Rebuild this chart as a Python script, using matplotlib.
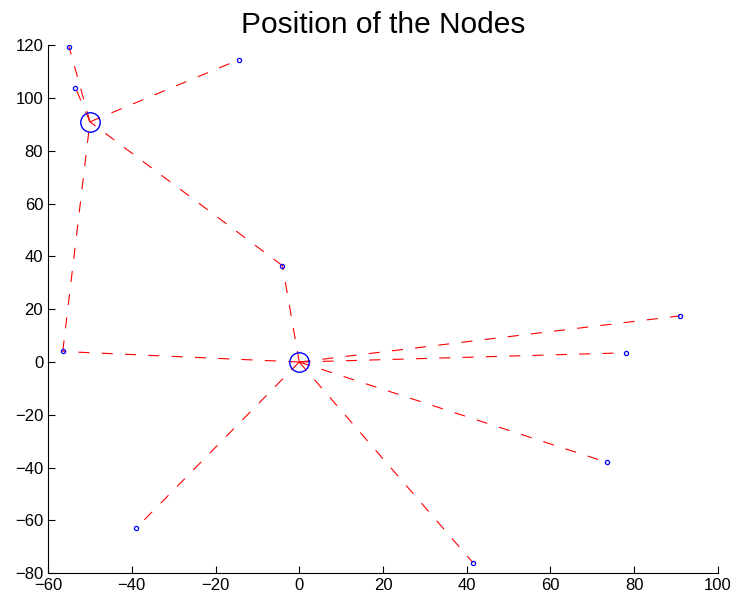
import matplotlib
matplotlib.use("Agg")
import matplotlib.pyplot as plt

plt.rcParams["font.family"] = ["Liberation Sans", "DejaVu Sans"]

# sensor node coordinates
node_x = [-55.0, -53.5, -14.5, -4.0, -56.5, 91.0, 78.0, 73.5, -39.0, 41.5]
node_y = [119.5, 104.0, 114.5, 36.5, 4.0, 17.5, 3.5, -38.0, -63.0, -76.0]

# cluster heads
head_x = [-50.0, 0.0]
head_y = [91.0, 0.0]

# links as (x0, y0, x1, y1) endpoints: nodes -> heads, plus relay hops
links = [
    (node_x[0], node_y[0], head_x[0], head_y[0]),
    (node_x[1], node_y[1], head_x[0], head_y[0]),
    (node_x[2], node_y[2], head_x[0], head_y[0]),
    (head_x[0], head_y[0], node_x[3], node_y[3]),
    (node_x[3], node_y[3], head_x[1], head_y[1]),
    (head_x[0], head_y[0], node_x[4], node_y[4]),
    (node_x[4], node_y[4], head_x[1], head_y[1]),
    (node_x[5], node_y[5], head_x[1], head_y[1]),
    (node_x[6], node_y[6], head_x[1], head_y[1]),
    (node_x[7], node_y[7], head_x[1], head_y[1]),
    (node_x[8], node_y[8], head_x[1], head_y[1]),
    (node_x[9], node_y[9], head_x[1], head_y[1]),
]

fig = plt.figure(figsize=(7.4, 6.04), dpi=100)
ax = fig.add_axes([0.065, 0.051, 0.905, 0.874])

for x0, y0, x1, y1 in links:
    ax.plot([x1, x0], [y1, y0], color="red", lw=0.8,
            linestyle=(0, (10, 11)))

ax.plot(node_x, node_y, "o", color="blue", mfc="none", ms=3, mew=0.9)
ax.plot(head_x, head_y, "o", color="blue", mfc="none", ms=14, mew=1.0)

ax.set_xlim(-60, 100)
ax.set_ylim(-80, 120)
ax.set_xticks(range(-60, 101, 20))
ax.set_yticks(range(-80, 121, 20))
ax.tick_params(direction="in", length=5, labelsize=12, width=0.8)
ax.spines["top"].set_visible(False)
ax.spines["right"].set_visible(False)

ax.set_title("Position of the Nodes", fontsize=21.5, pad=9)

fig.savefig("out.png", dpi=100)
